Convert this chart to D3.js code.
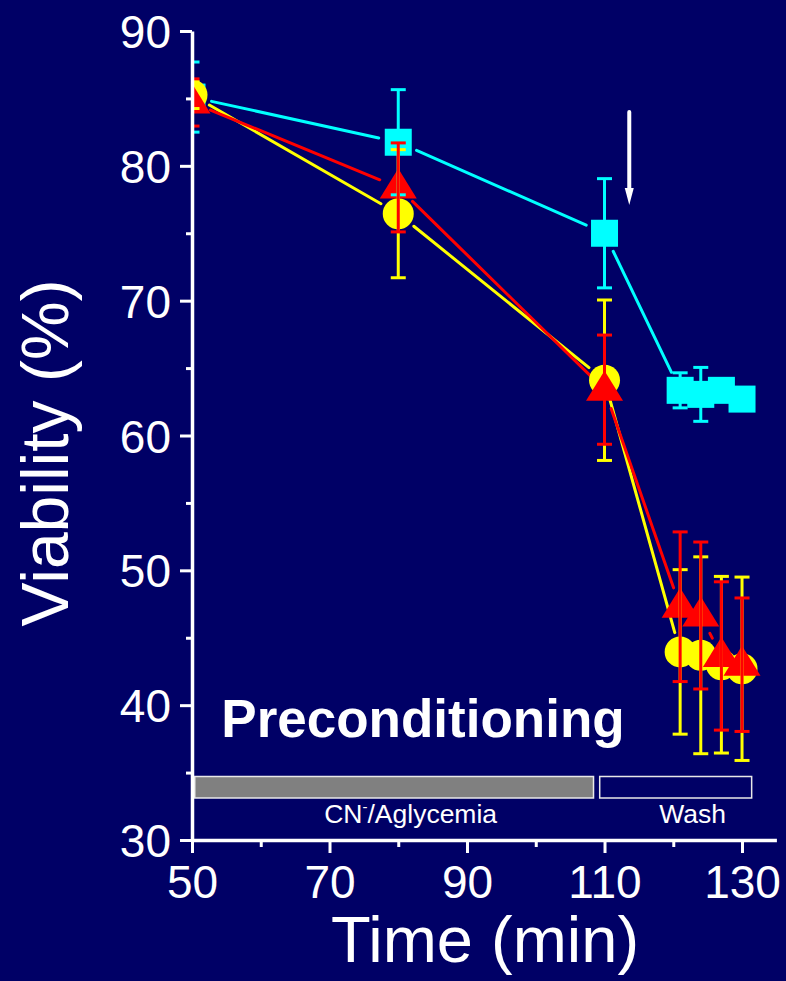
<!DOCTYPE html>
<html>
<head>
<meta charset="utf-8">
<script src="https://cdn.jsdelivr.net/npm/d3@7"></script>
<style>
  html, body { margin: 0; padding: 0; background: #000066; }
  svg { display: block; }
  text { font-family: "Liberation Sans", Arial, Helvetica, sans-serif; fill: #ffffff; }
</style>
</head>
<body>
<svg id="chart" width="786" height="981"></svg>
<script>
// Sampling times (min)
const times = [50, 80, 110, 121, 124, 127, 130];

// Viability (%) means and error bars for the three groups
const cyanMean   = [85.1, 81.75, 75.0, 63.35, 63.05, 63.35, 62.7];
const cyanErr    = [2.6, 3.9, 4.05, 1.3, 2.0, 0.8, 0.8];
const yellowMean = [85.25, 76.45, 64.1, 43.95, 43.7, 43.0, 42.7];
const yellowErr  = [1.0, 4.75, 5.95, 6.1, 7.3, 6.55, 6.8];
const redMean    = [84.7, 78.4, 63.4, 47.3, 46.65, 43.65, 43.0];
const redErr     = [1.75, 3.3, 4.05, 5.55, 5.45, 5.5, 4.95];

// Axis ticks
const xMajor = [50, 70, 90, 110, 130];
const xMinor = [60, 80, 100, 120];
const yMajor = [30, 40, 50, 60, 70, 80, 90];
const yMinor = [35, 45, 55, 65, 75, 85];

// Protocol phases (start/end in min) and where their captions sit
const phaseLabels = ["CN", "Wash"];
const phaseStart  = [50.4, 109.3];
const phaseEnd    = [108.4, 131.4];
const phaseLabelAt = [81.8, 122.8];

// Wash-onset arrow (time, from/to viability)
const arrowTime = 113.6;
const arrowFrom = 84.0;
const arrowTo   = 77.1;

const svg = d3.select("#chart");
const W = 786, H = 981;
svg.append("rect").attr("width", W).attr("height", H).attr("fill", "#000066");

const x = d3.scaleLinear().domain([50, 135]).range([192, 776.4]);
const y = d3.scaleLinear().domain([30, 90]).range([840, 31]);

// clip region for data marks
svg.append("defs").append("clipPath").attr("id", "plotClip")
  .append("rect")
  .attr("x", x(50) + 1).attr("y", 0)
  .attr("width", x(135) - x(50)).attr("height", y(30));

const plot = svg.append("g").attr("clip-path", "url(#plotClip)");

const series = [
  { mean: cyanMean,   err: cyanErr,   color: "#00ffff", shape: "square" },
  { mean: yellowMean, err: yellowErr, color: "#ffff00", shape: "circle" },
  { mean: redMean,    err: redErr,    color: "#ff0000", shape: "triangle" }
];

// connecting lines with a gap around each symbol
const GAP = 20;
series.forEach(s => {
  const pts = times.map((t, i) => [x(t), y(s.mean[i])]);
  for (let i = 0; i < pts.length - 1; i++) {
    const [x0, y0] = pts[i], [x1, y1] = pts[i + 1];
    const dx = x1 - x0, dy = y1 - y0;
    const len = Math.hypot(dx, dy);
    if (len <= 2 * GAP + 1) continue;
    const ux = dx / len, uy = dy / len;
    plot.append("line")
      .attr("x1", x0 + ux * GAP).attr("y1", y0 + uy * GAP)
      .attr("x2", x1 - ux * GAP).attr("y2", y1 - uy * GAP)
      .attr("stroke", s.color).attr("stroke-width", 3)
      .attr("stroke-linecap", "round");
  }
});

// symbols
const SQ = 27, R = 15.5, TW = 37;
series.forEach(s => {
  const g = plot.append("g");
  times.forEach((t, i) => {
    const cx = x(t), cy = y(s.mean[i]);
    if (s.shape === "square") {
      g.append("rect").attr("x", cx - SQ / 2).attr("y", cy - SQ / 2)
        .attr("width", SQ).attr("height", SQ).attr("fill", s.color);
    } else if (s.shape === "circle") {
      g.append("circle").attr("cx", cx).attr("cy", cy).attr("r", R).attr("fill", s.color);
    } else {
      const p = d3.path();
      p.moveTo(cx, cy - 19);
      p.lineTo(cx + TW / 2, cy + 11);
      p.lineTo(cx - TW / 2, cy + 11);
      p.closePath();
      g.append("path").attr("d", p.toString()).attr("fill", s.color);
    }
  });
});

// error bars drawn above all symbols
const CAP = 15;
series.forEach(s => {
  const g = plot.append("g").attr("stroke", s.color).attr("stroke-width", 3);
  times.forEach((t, i) => {
    const cx = x(t);
    const yt = y(s.mean[i] + s.err[i]), yb = y(s.mean[i] - s.err[i]);
    g.append("line").attr("x1", cx).attr("x2", cx).attr("y1", yt).attr("y2", yb);
    g.append("line").attr("x1", cx - CAP / 2).attr("x2", cx + CAP / 2).attr("y1", yt).attr("y2", yt);
    g.append("line").attr("x1", cx - CAP / 2).attr("x2", cx + CAP / 2).attr("y1", yb).attr("y2", yb);
  });
});

// arrow marking the start of the wash
const ax = x(arrowTime), ay0 = y(arrowFrom), ay1 = y(arrowTo);
svg.append("line").attr("x1", ax).attr("x2", ax).attr("y1", ay0).attr("y2", ay1 - 14)
  .attr("stroke", "#ffffff").attr("stroke-width", 4).attr("stroke-linecap", "round");
svg.append("path")
  .attr("d", `M${ax - 4.5},${ay1 - 17} L${ax + 4.5},${ay1 - 17} L${ax},${ay1} Z`)
  .attr("fill", "#ffffff");

// protocol bars
const barTop = 776.5, barH = 21.5;
phaseLabels.forEach((lab, i) => {
  svg.append("rect")
    .attr("x", x(phaseStart[i])).attr("y", barTop)
    .attr("width", x(phaseEnd[i]) - x(phaseStart[i])).attr("height", barH)
    .attr("fill", i === 0 ? "#808080" : "#000066")
    .attr("stroke", "#e8e8e8").attr("stroke-width", 1.5);
});
const cnLabel = svg.append("text")
  .attr("x", x(phaseLabelAt[0])).attr("y", 823)
  .attr("text-anchor", "middle").attr("font-size", 26.5);
cnLabel.append("tspan").text("CN");
cnLabel.append("tspan").text("-").attr("font-size", 15).attr("dy", -11);
cnLabel.append("tspan").text("/Aglycemia").attr("dy", 11);
svg.append("text")
  .attr("x", x(phaseLabelAt[1])).attr("y", 823)
  .attr("text-anchor", "middle").attr("font-size", 26.5)
  .text(phaseLabels[1]);

// panel caption
svg.append("text")
  .attr("x", 423).attr("y", 737)
  .attr("text-anchor", "middle").attr("font-size", 53).attr("font-weight", "bold")
  .text("Preconditioning");

// axes
function styleAxis(g) {
  g.selectAll("path.domain").attr("stroke", "#ffffff").attr("stroke-width", 3.5);
  g.selectAll(".tick line").attr("stroke", "#ffffff").attr("stroke-width", 3);
}

const yAxisMinor = svg.append("g").attr("transform", `translate(${x(50)},0)`)
  .call(d3.axisLeft(y).tickValues(yMinor).tickSize(6).tickSizeOuter(0).tickFormat(""));
styleAxis(yAxisMinor);
yAxisMinor.select("path.domain").remove();

const yAxis = svg.append("g").attr("transform", `translate(${x(50)},0)`)
  .call(d3.axisLeft(y).tickValues(yMajor).tickSize(12).tickSizeOuter(0).tickPadding(9));
styleAxis(yAxis);
yAxis.selectAll(".tick text")
  .attr("font-size", 46).attr("fill", "#ffffff")
  .attr("font-family", "'Liberation Sans', Arial, sans-serif")
  .attr("dy", "0.36em");

const xAxisMinor = svg.append("g").attr("transform", `translate(0,${y(30)})`)
  .call(d3.axisBottom(x).tickValues(xMinor).tickSize(7).tickSizeOuter(0).tickFormat(""));
styleAxis(xAxisMinor);
xAxisMinor.select("path.domain").remove();

const xAxis = svg.append("g").attr("transform", `translate(0,${y(30)})`)
  .call(d3.axisBottom(x).tickValues(xMajor).tickSize(13).tickSizeOuter(0));
styleAxis(xAxis);
xAxis.selectAll(".tick text")
  .attr("font-size", 46).attr("fill", "#ffffff")
  .attr("font-family", "'Liberation Sans', Arial, sans-serif")
  .attr("y", 58).attr("dy", 0);

// axis titles
svg.append("text")
  .attr("x", 485).attr("y", 962)
  .attr("text-anchor", "middle").attr("font-size", 65)
  .text("Time (min)");
svg.append("text")
  .attr("transform", "translate(68,453) rotate(-90)")
  .attr("text-anchor", "middle").attr("font-size", 66)
  .text("Viability (%)");
</script>
</body>
</html>
